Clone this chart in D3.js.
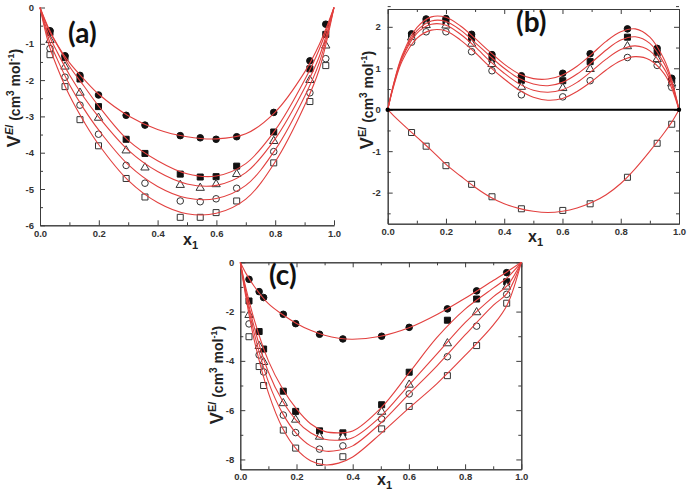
<!DOCTYPE html>
<html><head><meta charset="utf-8">
<script src="https://cdn.jsdelivr.net/npm/d3@7"></script>
<style>body{margin:0;background:#fff} svg{display:block}</style>
</head><body>
<svg id="chart" width="689" height="492"></svg>
<script>
// ---------- shared tick values ----------
const xMajor = [0, 0.2, 0.4, 0.6, 0.8, 1.0];
const xMinor = [0.1, 0.3, 0.5, 0.7, 0.9];

// ---------- panel (a) ----------
const aPointX = [0.034, 0.085, 0.136, 0.199, 0.293, 0.357, 0.477, 0.545, 0.599, 0.669, 0.795, 0.918, 0.972];
const aFilledCircle = [-0.64, -1.33, -1.87, -2.41, -2.97, -3.24, -3.53, -3.59, -3.63, -3.56, -2.89, -1.47, -0.46];
const aFilledSquare = [-0.69, -1.38, -1.97, -2.73, -3.63, -4.02, -4.59, -4.67, -4.66, -4.37, -3.43, -1.69, -0.74];
const aOpenTriangle = [-0.90, -1.63, -2.35, -3.04, -3.94, -4.41, -4.89, -4.97, -4.87, -4.59, -3.68, -2.00, -1.05];
const aOpenCircle = [-1.13, -1.92, -2.69, -3.49, -4.35, -4.84, -5.33, -5.35, -5.27, -4.98, -3.97, -2.35, -1.41];
const aOpenSquare = [-1.30, -2.18, -3.09, -3.81, -4.71, -5.22, -5.78, -5.78, -5.65, -5.33, -4.28, -2.59, -1.60];
const aCurveX = [0, 0.03, 0.06, 0.1, 0.15, 0.2, 0.3, 0.4, 0.5, 0.6, 0.7, 0.8, 0.9, 0.95, 1];
const aCurve1 = [0, -0.58, -1.04, -1.52, -1.98, -2.39, -2.98, -3.36, -3.56, -3.62, -3.48, -2.88, -1.78, -1.02, 0];
const aCurve2 = [0, -0.62, -1.05, -1.62, -2.17, -2.72, -3.66, -4.22, -4.58, -4.64, -4.30, -3.38, -2.00, -1.15, 0];
const aCurve3 = [0, -0.75, -1.25, -1.85, -2.48, -3.02, -3.93, -4.52, -4.86, -4.90, -4.55, -3.62, -2.22, -1.35, 0];
const aCurve4 = [0, -0.88, -1.45, -2.12, -2.80, -3.38, -4.33, -4.93, -5.25, -5.26, -4.90, -3.92, -2.45, -1.52, 0];
const aCurve5 = [0, -1.02, -1.68, -2.42, -3.15, -3.78, -4.76, -5.37, -5.68, -5.67, -5.28, -4.25, -2.70, -1.70, 0];
const aYTicks = [0, -1, -2, -3, -4, -5, -6];
const aYMinor = [-0.5, -1.5, -2.5, -3.5, -4.5, -5.5];

// ---------- panel (b) ----------
const bPointX = [0.082, 0.132, 0.2, 0.288, 0.358, 0.459, 0.601, 0.695, 0.823, 0.925, 0.975];
const bFilledCircle = [1.83, 2.19, 2.20, 1.82, 1.33, 0.82, 0.88, 1.35, 1.95, 1.48, 0.76];
const bFilledSquare = [1.79, 2.10, 2.12, 1.72, 1.22, 0.71, 0.70, 1.16, 1.75, 1.37, 0.71];
const bOpenTriangle = [1.74, 2.04, 2.03, 1.59, 1.10, 0.55, 0.52, 0.98, 1.53, 1.22, 0.63];
const bOpenCircle = [1.63, 1.88, 1.88, 1.40, 0.94, 0.36, 0.31, 0.70, 1.26, 1.07, 0.54];
const bOpenSquare = [-0.55, -0.88, -1.35, -1.80, -2.10, -2.39, -2.43, -2.27, -1.63, -0.81, -0.35];
const bEndX = [0, 1];
const bEndY = [0, 0];
const bCurveX = [0, 0.02, 0.05, 0.1, 0.15, 0.2, 0.25, 0.3, 0.35, 0.4, 0.45, 0.5, 0.55, 0.6, 0.65, 0.7, 0.75, 0.8, 0.85, 0.9, 0.95, 0.975, 1];
const bCurve1 = [0, 0.62, 1.32, 1.98, 2.24, 2.23, 2.02, 1.72, 1.40, 1.10, 0.87, 0.75, 0.74, 0.84, 1.05, 1.34, 1.65, 1.88, 1.95, 1.75, 1.20, 0.72, 0];
const bCurve2 = [0, 0.60, 1.28, 1.90, 2.14, 2.13, 1.92, 1.62, 1.30, 1.00, 0.76, 0.62, 0.58, 0.66, 0.86, 1.14, 1.44, 1.68, 1.76, 1.60, 1.10, 0.66, 0];
const bCurve3 = [0, 0.58, 1.24, 1.84, 2.06, 2.04, 1.82, 1.52, 1.18, 0.88, 0.63, 0.47, 0.42, 0.48, 0.66, 0.93, 1.22, 1.45, 1.54, 1.42, 0.98, 0.60, 0];
const bCurve4 = [0, 0.55, 1.18, 1.72, 1.92, 1.90, 1.68, 1.38, 1.04, 0.74, 0.48, 0.30, 0.23, 0.27, 0.44, 0.68, 0.96, 1.18, 1.28, 1.20, 0.86, 0.52, 0];
const bCurve5 = [0, -0.14, -0.34, -0.66, -0.98, -1.32, -1.60, -1.87, -2.10, -2.27, -2.38, -2.45, -2.48, -2.45, -2.37, -2.24, -2.05, -1.78, -1.42, -1.00, -0.55, -0.30, 0];
const bYTicks = [2, 1, 0, -1, -2];
const bYMinor = [2.5, 1.5, 0.5, -0.5, -1.5, -2.5];

// ---------- panel (c) ----------
const cPointX = [0.031, 0.067, 0.083, 0.153, 0.197, 0.282, 0.365, 0.503, 0.601, 0.737, 0.841, 0.948];
const cFilledCircle = [-0.69, -1.19, -1.43, -2.11, -2.49, -2.92, -3.11, -3.00, -2.64, -1.89, -1.16, -0.42];
const cFilledSquare = [-1.57, -2.81, -3.52, -5.23, -6.05, -6.84, -6.92, -5.78, -4.46, -2.35, -1.49, -0.79];
const cOpenTriangle = [-2.14, -3.40, -4.05, -5.72, -6.39, -7.08, -7.09, -6.07, -4.97, -3.29, -2.03, -0.99];
const cOpenCircle = [-2.50, -3.76, -4.45, -6.20, -6.91, -7.58, -7.45, -6.36, -5.34, -3.83, -2.59, -1.30];
const cOpenSquare = [-3.02, -4.23, -5.00, -6.81, -7.54, -8.12, -7.89, -6.76, -5.85, -4.60, -3.38, -1.66];
const cCurveX = [0, 0.02, 0.05, 0.1, 0.15, 0.2, 0.25, 0.3, 0.35, 0.4, 0.5, 0.6, 0.7, 0.8, 0.9, 0.95, 1];
const cCurve1 = [0, -0.45, -0.98, -1.68, -2.12, -2.48, -2.76, -2.96, -3.08, -3.12, -3.00, -2.66, -2.12, -1.46, -0.74, -0.38, 0];
const cCurve2 = [0, -1.05, -2.35, -4.00, -5.12, -5.95, -6.55, -6.86, -6.92, -6.85, -5.92, -4.50, -3.05, -1.90, -1.05, -0.62, 0];
const cCurve3 = [0, -1.20, -2.65, -4.45, -5.62, -6.42, -6.92, -7.18, -7.22, -7.12, -6.25, -4.98, -3.72, -2.45, -1.40, -0.95, 0];
const cCurve4 = [0, -1.30, -2.90, -4.85, -6.12, -6.95, -7.45, -7.66, -7.63, -7.45, -6.52, -5.35, -4.20, -2.95, -1.75, -1.25, 0];
const cCurve5 = [0, -1.42, -3.18, -5.30, -6.72, -7.58, -8.05, -8.22, -8.15, -7.90, -6.95, -5.92, -4.92, -3.78, -2.55, -1.72, 0];
const cYTicks = [0, -2, -4, -6, -8];
const cYMinor = [-1, -3, -5, -7];

// ---------- drawing ----------
const svg = d3.select("#chart");
const RED = "#e2403f";
const AX = "#3c3c3c";
const TICKFONT = "'Liberation Sans', Arial, sans-serif";

const symbols = {
  filledCircle: {type: d3.symbolCircle, size: 34, fill: "#111", stroke: "#111"},
  filledSquare: {type: d3.symbolSquare, size: 36, fill: "#111", stroke: "#111"},
  openTriangle: {type: d3.symbolTriangle, size: 30, fill: "#fff", stroke: "#333"},
  openCircle: {type: d3.symbolCircle, size: 34, fill: "#fff", stroke: "#333"},
  openSquare: {type: d3.symbolSquare, size: 36, fill: "#fff", stroke: "#333"}
};

function styleAxis(sel) {
  sel.selectAll(".domain").attr("stroke", AX).attr("stroke-width", 1);
  sel.selectAll(".tick line").attr("stroke", AX).attr("stroke-width", 1);
  sel.selectAll(".tick text").attr("fill", "#333").style("font-family", TICKFONT)
    .style("font-weight", "bold").style("font-size", "9.5px");
}

function drawPanel(p) {
  const g = svg.append("g");
  const x = d3.scaleLinear().domain([0, 1]).range([p.left, p.right]);
  const y = d3.scaleLinear().domain(p.yDomain).range([p.bottom, p.top]);

  // bottom axis
  g.append("g").attr("transform", `translate(0,${p.bottom})`)
    .call(d3.axisBottom(x).tickValues(xMajor).tickFormat(d3.format(".1f"))
      .tickSizeInner(-5).tickSizeOuter(0).tickPadding(p.xPad)).call(styleAxis);
  g.append("g").attr("transform", `translate(0,${p.bottom})`)
    .call(d3.axisBottom(x).tickValues(xMinor).tickFormat("").tickSizeInner(-3).tickSizeOuter(0)).call(styleAxis);
  // left axis
  g.append("g").attr("transform", `translate(${p.left},0)`)
    .call(d3.axisLeft(y).tickValues(p.yTicks).tickFormat(d => String(d))
      .tickSizeInner(-5).tickSizeOuter(0).tickPadding(p.yPad)).call(styleAxis);
  g.append("g").attr("transform", `translate(${p.left},0)`)
    .call(d3.axisLeft(y).tickValues(p.yMinor).tickFormat("").tickSizeInner(-3).tickSizeOuter(0)).call(styleAxis);

  if (p.box) {
    g.append("g").attr("transform", `translate(0,${p.top})`)
      .call(d3.axisTop(x).tickValues(xMajor).tickFormat("").tickSizeInner(-5).tickSizeOuter(0)).call(styleAxis);
    g.append("g").attr("transform", `translate(0,${p.top})`)
      .call(d3.axisTop(x).tickValues(xMinor).tickFormat("").tickSizeInner(-3).tickSizeOuter(0)).call(styleAxis);
    g.append("g").attr("transform", `translate(${p.right},0)`)
      .call(d3.axisRight(y).tickValues(p.yTicks).tickFormat("").tickSizeInner(-5).tickSizeOuter(0)).call(styleAxis);
    g.append("g").attr("transform", `translate(${p.right},0)`)
      .call(d3.axisRight(y).tickValues(p.yMinor).tickFormat("").tickSizeInner(-3).tickSizeOuter(0)).call(styleAxis);
  }

  if (p.zeroLine) {
    g.append("line").attr("x1", x(0)).attr("x2", x(1)).attr("y1", y(0)).attr("y2", y(0))
      .attr("stroke", "#000").attr("stroke-width", 2);
  }

  // markers
  p.series.forEach(s => {
    const sym = symbols[s.sym];
    g.append("g").selectAll("path").data(d3.zip(s.x, s.y)).join("path")
      .attr("d", d3.symbol(sym.type, sym.size)())
      .attr("transform", d => `translate(${x(d[0])},${y(d[1])})`)
      .attr("fill", sym.fill).attr("stroke", sym.stroke).attr("stroke-width", 1);
  });

  // fitted curves
  const line = d3.line().x(d => x(d[0])).y(d => y(d[1])).curve(d3.curveCatmullRom.alpha(0.5));
  p.curves.forEach(c => {
    g.append("path").attr("d", line(d3.zip(p.curveX, c))).attr("fill", "none")
      .attr("stroke", RED).attr("stroke-width", 1.1);
  });

  if (p.ends) {
    g.append("g").selectAll("circle").data(d3.zip(p.ends[0], p.ends[1])).join("circle")
      .attr("cx", d => x(d[0])).attr("cy", d => y(d[1])).attr("r", 2.2).attr("fill", "#000");
  }

  // panel label
  g.append("text").attr("x", p.tag[0]).attr("y", p.tag[1]).text(p.tagText)
    .style("font-family", "Lato, 'Open Sans', sans-serif").style("font-weight", "bold")
    .style("font-size", "28px").attr("fill", "#111");

  // x title
  const xt = g.append("text").attr("x", p.xTitle[0]).attr("y", p.xTitle[1])
    .style("font-family", TICKFONT).style("font-weight", "bold").attr("fill", "#222");
  xt.append("tspan").text("x").style("font-size", "16px");
  xt.append("tspan").text("1").style("font-size", "11px").attr("dy", 4);

  // y title
  const yt = g.append("text").attr("transform", `translate(${p.yTitle[0]},${p.yTitle[1]}) rotate(-90)`)
    .attr("text-anchor", "middle").style("font-family", TICKFONT).style("font-weight", "bold").attr("fill", "#222");
  yt.append("tspan").text("V").style("font-size", "18px");
  yt.append("tspan").text("E").style("font-size", "11px").attr("dy", -7).style("font-style", p.italicE ? "italic" : "normal");
  yt.append("tspan").text("/").style("font-size", "11px");
  yt.append("tspan").text(" (cm").style("font-size", "14px").attr("dy", 7);
  yt.append("tspan").text("3").style("font-size", "10px").attr("dy", -6);
  yt.append("tspan").text(" mol").style("font-size", "14px").attr("dy", 6);
  yt.append("tspan").text("-1").style("font-size", "9px").attr("dy", -6);
  yt.append("tspan").text(")").style("font-size", "14px").attr("dy", 6);
}

drawPanel({
  left: 40, right: 334, top: 7.5, bottom: 225.3, yDomain: [-6, 0],
  yTicks: aYTicks, yMinor: aYMinor, xPad: 5, yPad: 6, box: false,
  series: [
    {x: aPointX, y: aFilledCircle, sym: "filledCircle"},
    {x: aPointX, y: aFilledSquare, sym: "filledSquare"},
    {x: aPointX, y: aOpenTriangle, sym: "openTriangle"},
    {x: aPointX, y: aOpenCircle, sym: "openCircle"},
    {x: aPointX, y: aOpenSquare, sym: "openSquare"}
  ],
  curveX: aCurveX, curves: [aCurve1, aCurve2, aCurve3, aCurve4, aCurve5],
  tag: [68, 43], tagText: "(a)", xTitle: [183, 245], yTitle: [20, 98], italicE: true
});

drawPanel({
  left: 387.7, right: 679, top: 9, bottom: 223.7, yDomain: [-2.75, 2.43],
  yTicks: bYTicks, yMinor: bYMinor, xPad: 5, yPad: 7, box: true, zeroLine: true,
  series: [
    {x: bPointX, y: bFilledCircle, sym: "filledCircle"},
    {x: bPointX, y: bFilledSquare, sym: "filledSquare"},
    {x: bPointX, y: bOpenTriangle, sym: "openTriangle"},
    {x: bPointX, y: bOpenCircle, sym: "openCircle"},
    {x: bPointX, y: bOpenSquare, sym: "openSquare"}
  ],
  curveX: bCurveX, curves: [bCurve1, bCurve2, bCurve3, bCurve4, bCurve5],
  ends: [bEndX, bEndY],
  tag: [516, 32], tagText: "(b)", xTitle: [528, 242], yTitle: [373, 100]
});

drawPanel({
  left: 240.3, right: 521.3, top: 262.3, bottom: 469.3, yDomain: [-8.4, 0],
  yTicks: cYTicks, yMinor: cYMinor, xPad: 4, yPad: 6, box: true,
  series: [
    {x: cPointX, y: cFilledCircle, sym: "filledCircle"},
    {x: cPointX, y: cFilledSquare, sym: "filledSquare"},
    {x: cPointX, y: cOpenTriangle, sym: "openTriangle"},
    {x: cPointX, y: cOpenCircle, sym: "openCircle"},
    {x: cPointX, y: cOpenSquare, sym: "openSquare"}
  ],
  curveX: cCurveX, curves: [cCurve1, cCurve2, cCurve3, cCurve4, cCurve5],
  tag: [269, 285], tagText: "(c)", xTitle: [377, 485], yTitle: [223, 375]
});
</script>
</body></html>
